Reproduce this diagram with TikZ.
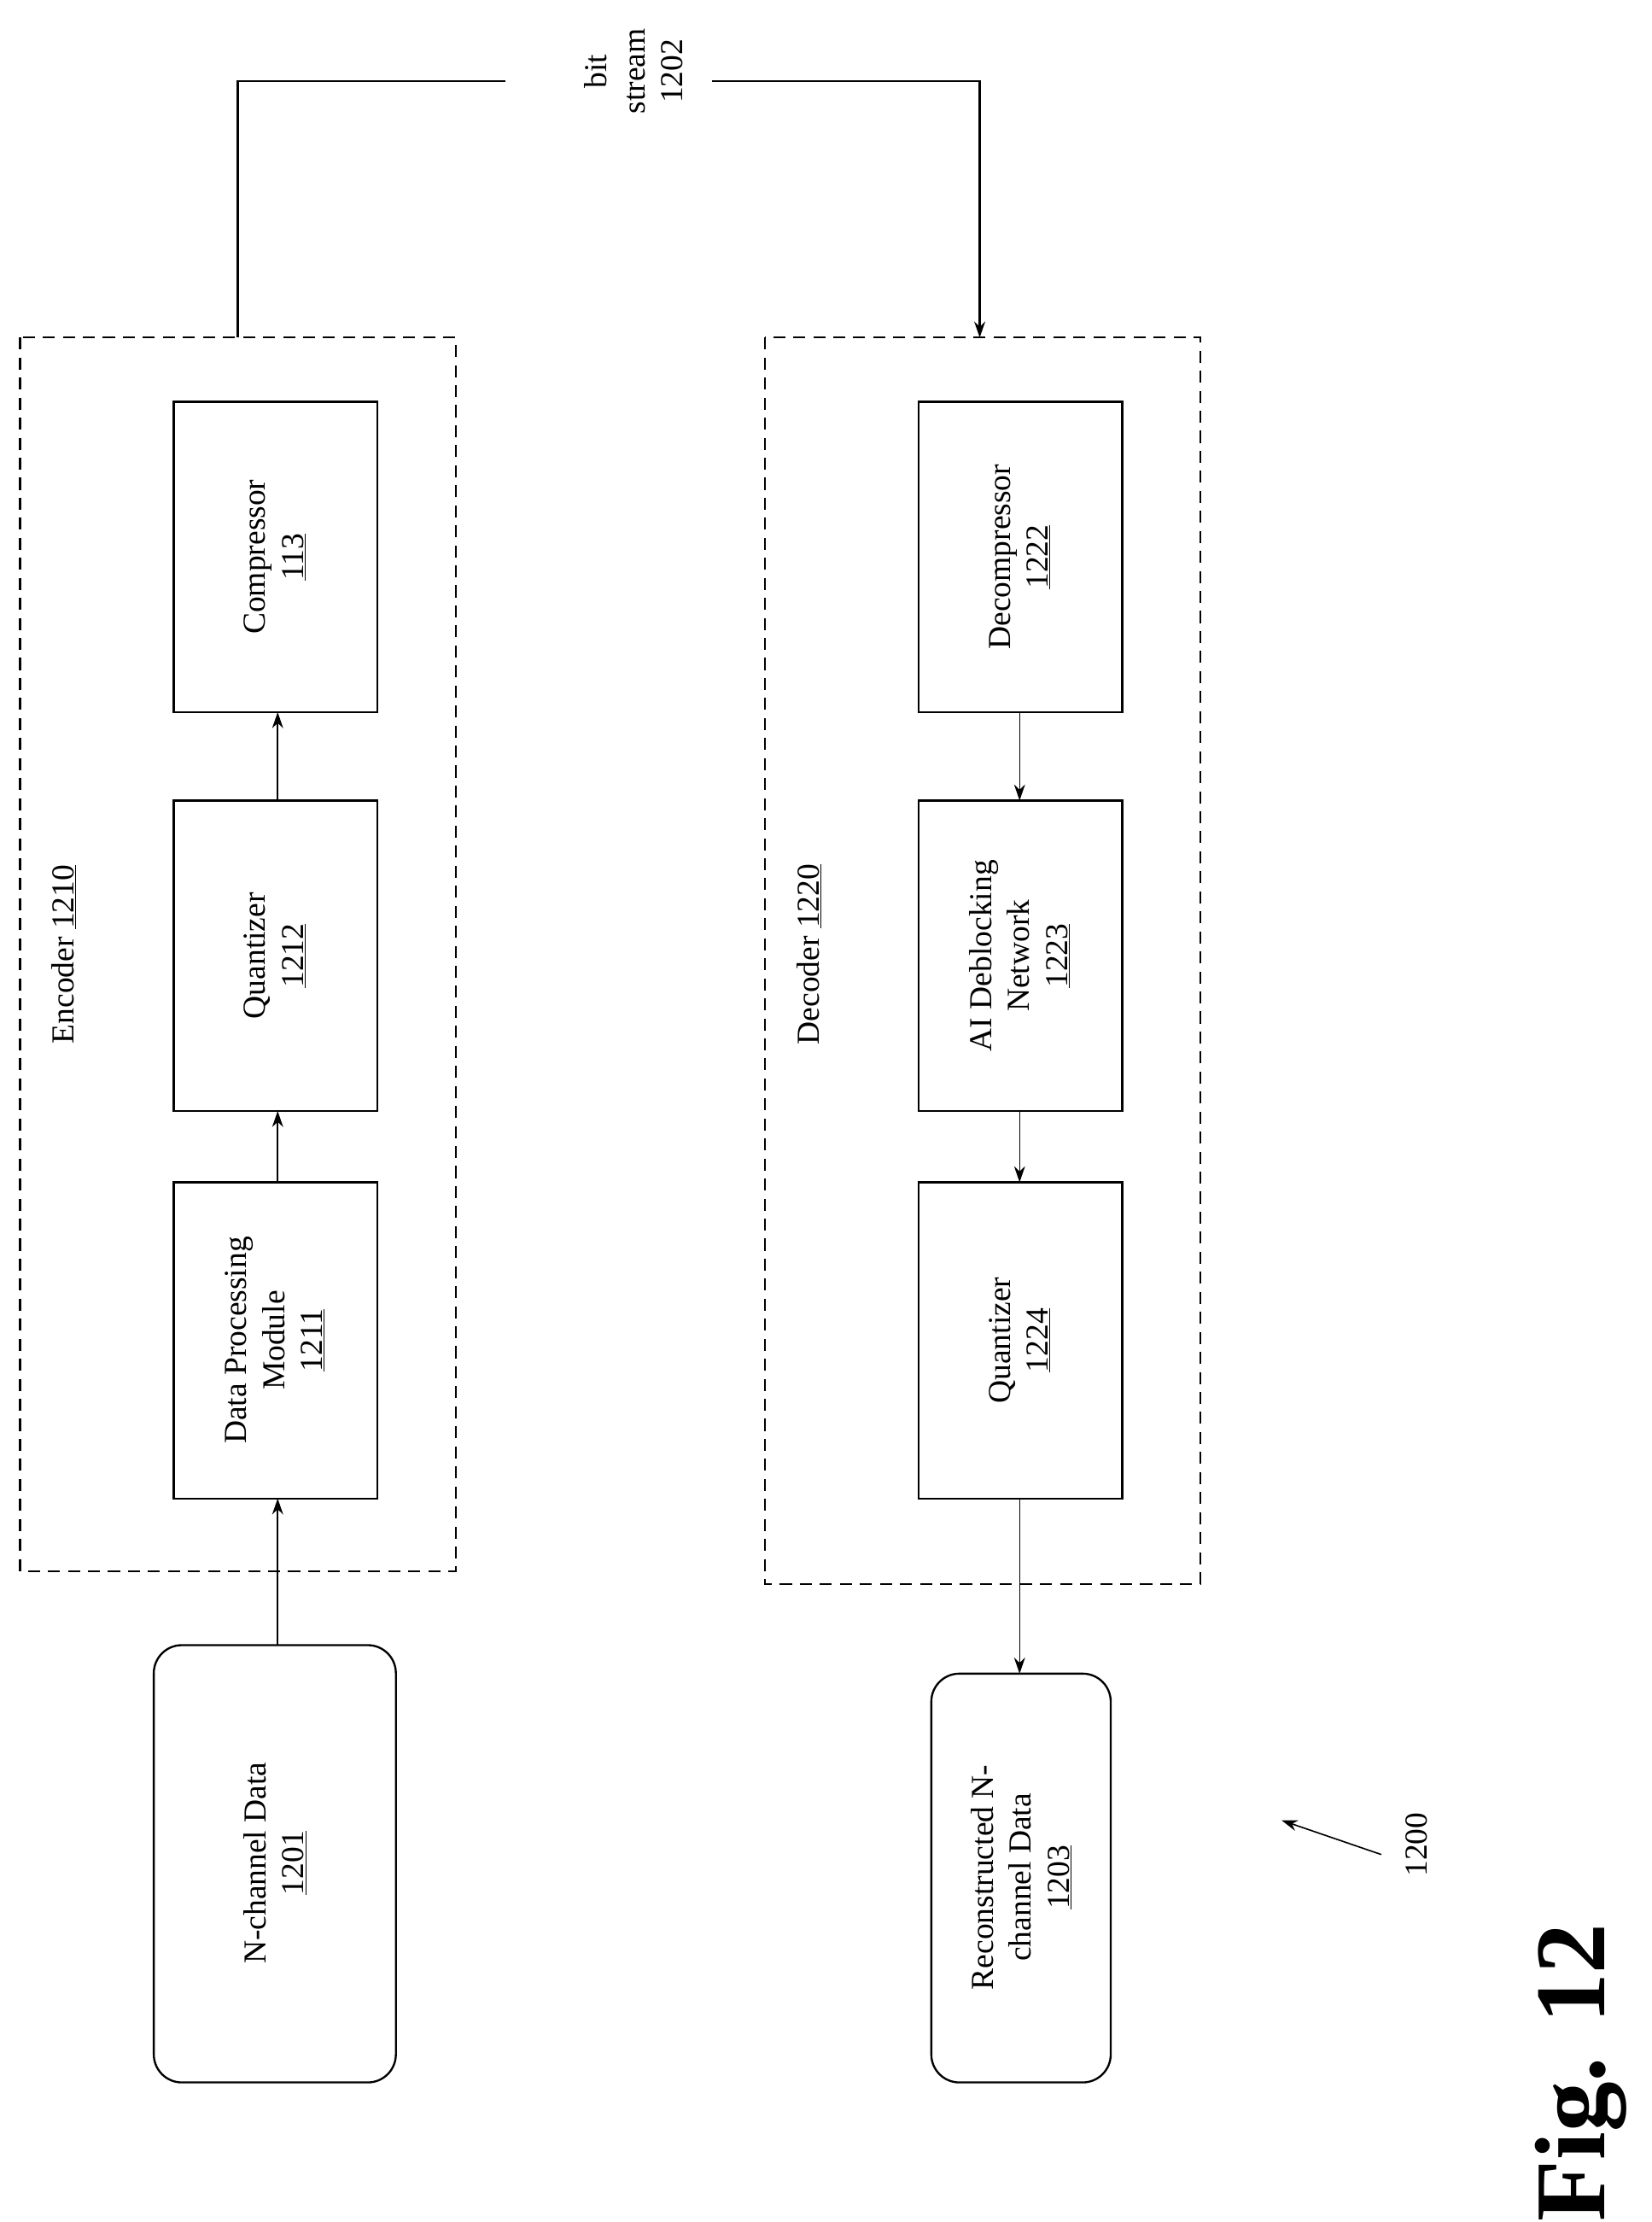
\documentclass[tikz,border=0pt]{standalone}
\usepackage{fontspec}
\setmainfont{Liberation Serif}
\usetikzlibrary{arrows.meta}
\begin{document}
\begin{tikzpicture}[x=0.05cm,y=-0.05cm,
 box/.style={draw,line width=2pt},
 dashbox/.style={draw,line width=2pt,dash pattern=on 12pt off 8pt},
 txt/.style={rotate=90,align=center,font=\fontsize{32}{38}\selectfont},
 arr/.style={line width=1.6pt,-{Stealth[length=16pt,width=11pt]}}]
\useasboundingbox (0,0) rectangle (1160,1560);
\draw[dashbox] (14,237) rectangle (320,1103);
\draw[dashbox] (537,237) rectangle (843,1112);
\node[txt] (enc) at (45,670) {Encoder \underline{1210}};
\node[txt] (dec) at (568,670) {Decoder \underline{1220}};
\draw[box] (122,282) rectangle (265,500); \node[txt] (comp) at (193,391) {Compressor\\\underline{113}};
\draw[box] (122,562) rectangle (265,780); \node[txt] (q1) at (193,671) {Quantizer\\\underline{1212}};
\draw[box] (122,830) rectangle (265,1052); \node[txt] (dpm) at (193,941) {Data Processing\\Module\\\underline{1211}};
\draw[box,rounded corners=28pt] (108,1155) rectangle (278,1462); \node[txt] (nd) at (193,1308) {N-channel Data\\\underline{1201}};
\draw[box] (645,282) rectangle (788,500); \node[txt] (dc) at (716,391) {Decompressor\\\underline{1222}};
\draw[box] (645,562) rectangle (788,780); \node[txt] (ai) at (716,671) {AI Deblocking\\Network\\\underline{1223}};
\draw[box] (645,830) rectangle (788,1052); \node[txt] (q2) at (716,941) {Quantizer\\\underline{1224}};
\draw[box,rounded corners=28pt] (654,1175) rectangle (780,1462); \node[txt] (rc) at (717,1318) {Reconstructed N-\\channel Data\\\underline{1203}};
\coordinate (a1) at (195,1155); \coordinate (a2) at (195,1052);
\draw[arr] (a1) -- (a2);
\coordinate (b1) at (195,830); \coordinate (b2) at (195,780);
\draw[arr] (b1) -- (b2);
\coordinate (c1) at (195,562); \coordinate (c2) at (195,500);
\draw[arr] (c1) -- (c2);
\coordinate (d1) at (716,500); \coordinate (d2) at (716,562);
\draw[arr,line width=1.2pt] (d1) -- (d2);
\coordinate (e1) at (716,780); \coordinate (e2) at (716,830);
\draw[arr,line width=1.2pt] (e1) -- (e2);
\coordinate (f1) at (716,1052); \coordinate (f2) at (716,1175);
\draw[arr,line width=1.2pt] (f1) -- (f2);
\node[txt] (bs) at (445,50) {bit\\stream\\1202};
\coordinate (g1) at (167,237); \coordinate (g2) at (688,237);
\draw[line width=2pt] (g1) -- (167,57) -- (355,57);
\draw[arr,line width=2pt] (500,57) -- (688,57) -- (g2);
\node[txt] (n1200) at (995,1295) {1200};
\coordinate (h1) at (970,1302); \coordinate (h2) at (900,1278);
\draw[arr,line width=1.4pt] (h1) -- (h2);
\node[rotate=90,font=\fontsize{100}{110}\selectfont\bfseries] (fig) at (1110,1455) {Fig. 12};
\end{tikzpicture}
\end{document}
